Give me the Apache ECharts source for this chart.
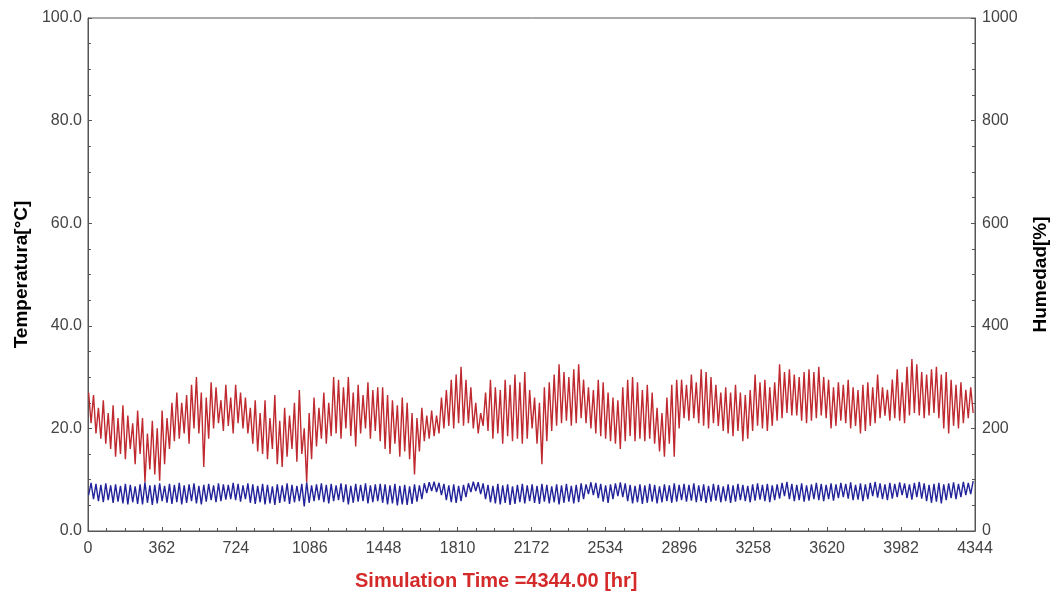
<!DOCTYPE html>
<html>
<head>
<meta charset="utf-8">
<script src="https://cdn.jsdelivr.net/npm/echarts@6/dist/echarts.min.js"></script>
<style>
html,body{margin:0;padding:0;background:#fff;}
#c{width:1058px;height:597px;}
</style>
</head>
<body>
<div id="c"></div>
<script>
// Daily extremes (day 0 .. 180), hour = day*24
const tempMax = [
27,26.5,24,25.5,23,24.5,22,24.5,22.5,21,23.5,22,19,21.5,20,23.5,22,25,27,25,26.5,28.5,30,27,26,29,28,25.5,28.5,26,
28.5,27,26,24,25.5,23,25.5,22,26.5,21.5,24,22.5,25,27.5,20,23,26,24,27,25,30,29.5,28,30,27,28.5,26.5,29,27.5,28,
28,26.5,25.5,24.5,26,25,23,22,24,22.5,23.5,22.5,26,27.5,29.5,30.5,32,29.5,28,25,23,27,29.5,28,27.5,29.5,28.5,30.5,29,31,
27.5,26,25,28,29,30.5,32.5,31,30,31.5,32.5,29.5,28,27.5,29.5,29,27,26,25.5,28,29.5,30,29,27.5,28.5,27,24,23,26,28.5,29.5,
29.5,28.5,30.5,29,31.5,31,30,28.5,27,28,27,28.5,27,26.5,27.5,30.5,29,29.5,28,29,32.5,31,31.5,30.5,30,31,31.5,31,32,30,
29.5,28,29,28.5,29.5,28,27.5,28.5,29,28,30.5,28,27.5,29.5,31.5,29,32,33.5,32.5,31,30.5,31.5,32,30.5,31,29.5,28.5,29,27.5,28
];
const tempMin = [
21,19,18,17,16,14.5,15,14,16,13,15,9.5,12,11,9.8,13,16,17.5,18,19,17,20,19,12.5,18,20,21,19.5,20.5,19,
21,20,19,17,15.5,15,14,16,13,12.5,14.5,16,13.5,15,9.5,14,16.5,18,17,18.5,19,18,20,18.5,16.5,19,20,18,19.5,17.5,
16,15,17,14.5,15.5,14,11,15.5,17.5,18,18.5,19,20,20.5,20,21,20.5,21,20,19,20.5,19.5,18,19,17,18.5,17.5,18,17,18,
20,17,13,17.5,19.5,20.5,21,21.5,20.5,21,22,21,20,19,18.5,18,17.5,17,16,17.5,18.5,17.5,18,17.5,18,17,15.5,14.5,17,14.5,20,
22,21.5,22,21,20.5,20,21,20.5,19.5,19,18.5,19.5,17.5,18,19.5,20.5,20,19.5,20.5,21.5,22,23,22.5,22.5,21.5,21,21.5,22,22.5,22,
20,20.5,21.5,21,20,20.5,19,19.5,20.5,21,22,22.5,21.5,22,21.5,21,22.5,23,22.5,22,22.5,23,22,20,19,20.5,20,21,22,23
];
const humMax = [
94,92,90,93,89,91,88,92,90,87,91,95,89,90,93,88,92,90,94,89,91,93,88,90,92,89,93,91,90,94,
92,89,93,91,88,92,90,87,91,89,93,90,88,92,95,89,91,93,90,92,89,93,91,88,92,90,93,89,91,92,
91,89,92,88,90,87,91,89,93,95,96,94,92,89,91,88,90,93,96,95,93,90,88,92,89,91,87,90,92,89,
91,88,92,90,87,91,89,92,88,90,93,91,95,94,92,89,91,93,95,93,90,88,91,89,92,90,87,91,89,93,90,
92,90,93,89,91,88,92,90,87,91,89,92,90,88,91,93,90,92,89,91,94,96,92,90,93,89,91,94,92,90,
93,91,94,92,95,90,93,91,94,96,93,91,94,92,95,93,91,94,96,93,90,92,94,91,93,95,92,96,94,97
];
const humMin = [
70,62,58,56,60,55,57,54,52,56,53,52,55,51,54,58,55,53,56,52,55,58,54,52,57,60,56,58,61,62,
60,57,62,55,53,56,52,54,51,55,57,53,56,58,48,55,58,60,56,54,58,60,56,52,55,57,58,54,56,58,
55,52,54,50,52,51,53,57,62,74,78,76,70,60,56,55,58,66,76,78,72,62,56,54,52,55,51,53,56,54,
58,55,53,57,54,56,52,55,57,54,56,62,72,70,64,57,55,62,68,66,58,54,56,53,55,57,54,56,58,55,57,
60,57,59,56,58,55,57,59,56,58,55,57,60,58,56,59,61,58,56,60,63,68,62,58,60,57,59,62,60,58,
62,59,64,66,63,60,61,58,62,68,65,62,60,63,66,70,64,61,66,63,58,55,57,54,60,64,62,66,70,72
];
const xTicks = [0,362,724,1086,1448,1810,2172,2534,2896,3258,3620,3982,4344];
const tempTicks = [0,20,40,60,80,100];
const humTicks = [0,200,400,600,800,1000];

const tempData = [], humData = [];
for (let d = 0; d < tempMax.length; d++) {
  tempData.push([d*24+3, tempMax[d]]);
  tempData.push([d*24+15, tempMin[d]]);
  humData.push([d*24+3, humMin[d]]);
  humData.push([d*24+15, humMax[d]]);
}

const chart = echarts.init(document.getElementById('c'), null, {renderer:'canvas'});
const axisColor = '#555';
const labelStyle = {color:'#444', fontFamily:'Liberation Sans, Arial, sans-serif', fontSize:16};
chart.setOption({
  animation:false,
  backgroundColor:'#fff',
  grid:{left:88, right:83, top:18, bottom:66, show:true, borderColor:axisColor, borderWidth:1},
  title:{
    text:'Simulation Time =4344.00 [hr]',
    left:350, top:566,
    textStyle:{color:'#d42a2a', fontWeight:'bold', fontSize:20, fontFamily:'Liberation Sans, Arial, sans-serif'}
  },
  xAxis:{
    type:'value', min:xTicks[0], max:xTicks[xTicks.length-1], interval:xTicks[1]-xTicks[0],
    axisLine:{show:true, lineStyle:{color:axisColor}},
    axisTick:{show:true, inside:true, length:4, lineStyle:{color:axisColor}},
    minorTick:{show:true, splitNumber:4, length:3, lineStyle:{color:axisColor}},
    splitLine:{show:false},
    axisLabel:Object.assign({margin:10, formatter:v=>String(v)}, labelStyle)
  },
  yAxis:[{
    type:'value', min:tempTicks[0], max:tempTicks[tempTicks.length-1], interval:tempTicks[1]-tempTicks[0],
    name:'Temperatura[°C]', nameLocation:'middle', nameGap:56, nameRotate:90,
    nameTextStyle:{color:'#000', fontWeight:'bold', fontSize:19, fontFamily:'Liberation Sans, Arial, sans-serif'},
    axisLine:{show:true, lineStyle:{color:axisColor}},
    axisTick:{show:true, inside:true, length:4, lineStyle:{color:axisColor}},
    minorTick:{show:true, splitNumber:4, length:3, lineStyle:{color:axisColor}},
    splitLine:{show:false},
    axisLabel:Object.assign({margin:6, formatter:v=>v.toFixed(1)}, labelStyle)
  },{
    type:'value', min:humTicks[0], max:humTicks[humTicks.length-1], interval:humTicks[1]-humTicks[0],
    position:'right',
    name:'Humedad[%]', nameLocation:'middle', nameGap:56, nameRotate:90,
    nameTextStyle:{color:'#000', fontWeight:'bold', fontSize:19, fontFamily:'Liberation Sans, Arial, sans-serif'},
    axisLine:{show:true, lineStyle:{color:axisColor}},
    axisTick:{show:true, inside:true, length:4, lineStyle:{color:axisColor}},
    minorTick:{show:true, splitNumber:4, length:3, lineStyle:{color:axisColor}},
    splitLine:{show:false},
    axisLabel:Object.assign({margin:7, formatter:v=>String(v)}, labelStyle)
  }],
  series:[{
    type:'line', name:'Temperatura', yAxisIndex:0, data:tempData, showSymbol:false,
    lineStyle:{color:'#bf2a30', width:1.4}, itemStyle:{color:'#bf2a30'}
  },{
    type:'line', name:'Humedad', yAxisIndex:1, data:humData, showSymbol:false,
    lineStyle:{color:'#22239a', width:1.4}, itemStyle:{color:'#22239a'}
  }]
});
</script>
</body>
</html>
